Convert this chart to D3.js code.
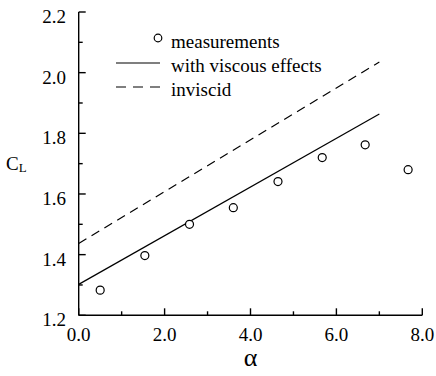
<!DOCTYPE html>
<html><head><meta charset="utf-8">
<script src="https://cdn.jsdelivr.net/npm/d3@7"></script>
<style>body{margin:0;background:#fff} svg text{font-family:"Liberation Serif","DejaVu Serif","Noto Serif",serif;}</style>
</head><body>
<script>
const measAlpha = [0.5, 1.54, 2.58, 3.6, 4.64, 5.67, 6.67, 7.67];
const measCL    = [1.283, 1.397, 1.5, 1.555, 1.641, 1.72, 1.762, 1.68];
const viscAlpha = [0, 7];
const viscCL    = [1.302, 1.864];
const invAlpha  = [0, 7];
const invCL     = [1.437, 2.035];
const xTicks = [0, 2, 4, 6, 8];
const xMinor = [1, 3, 5, 7];
const yTicks = [1.2, 1.4, 1.6, 1.8, 2.0, 2.2];
const yMinor = [1.3, 1.5, 1.7, 1.9, 2.1];
const legendLabels = ["measurements", "with viscous effects", "inviscid"];

const W = 436, H = 376;
const svg = d3.select("body").append("svg").attr("width", W).attr("height", H);
const x = d3.scaleLinear().domain([0, 8]).range([78.7, 422.3]);
const y = d3.scaleLinear().domain([1.2, 2.2]).range([315.3, 12]);

// axes
const g = svg.append("g").attr("stroke", "#000").attr("stroke-width", 1.4);
g.append("line").attr("x1", x(0)).attr("x2", x(0)).attr("y1", y(1.2)).attr("y2", y(2.2));
g.append("line").attr("x1", x(0)).attr("x2", x(8)).attr("y1", y(1.2)).attr("y2", y(1.2));
yTicks.forEach(v => g.append("line").attr("x1", x(0)).attr("x2", x(0) + 7).attr("y1", y(v)).attr("y2", y(v)));
yMinor.forEach(v => g.append("line").attr("x1", x(0)).attr("x2", x(0) + 4).attr("y1", y(v)).attr("y2", y(v)));
xTicks.forEach(v => g.append("line").attr("x1", x(v)).attr("x2", x(v)).attr("y1", y(1.2)).attr("y2", y(1.2) - 7));
xMinor.forEach(v => g.append("line").attr("x1", x(v)).attr("x2", x(v)).attr("y1", y(1.2)).attr("y2", y(1.2) - 4));

const fmt = d3.format(".1f");
svg.selectAll(".yl").data(yTicks).enter().append("text")
  .attr("x", 66).attr("y", d => y(d) + 11).attr("text-anchor", "end")
  .attr("font-size", 19).text(fmt);
svg.selectAll(".xl").data(xTicks).enter().append("text")
  .attr("x", d => x(d)).attr("y", 341).attr("text-anchor", "middle")
  .attr("font-size", 19).text(fmt);

// axis titles
svg.append("text").attr("x", x(4)).attr("y", 366).attr("text-anchor", "middle")
  .attr("font-size", 26).text("α");
const cl = svg.append("text").attr("x", 6).attr("y", 170).attr("font-size", 19);
cl.append("tspan").text("C");
cl.append("tspan").attr("font-size", 13).attr("dy", 2).text("L");

// lines
const line = d3.line().x(d => x(d[0])).y(d => y(d[1]));
svg.append("path").datum(viscAlpha.map((a, i) => [a, viscCL[i]])).attr("d", line)
  .attr("fill", "none").attr("stroke", "#000").attr("stroke-width", 1.2);
svg.append("path").datum(invAlpha.map((a, i) => [a, invCL[i]])).attr("d", line)
  .attr("fill", "none").attr("stroke", "#000").attr("stroke-width", 1.2).attr("stroke-dasharray", "9,6");

// measurements
svg.selectAll(".m").data(measAlpha.map((a, i) => [a, measCL[i]])).enter().append("circle")
  .attr("cx", d => x(d[0])).attr("cy", d => y(d[1])).attr("r", 4)
  .attr("fill", "#fff").attr("stroke", "#000").attr("stroke-width", 1.2);

// legend
svg.append("circle").attr("cx", 158).attr("cy", 38).attr("r", 3.8)
  .attr("fill", "#fff").attr("stroke", "#000").attr("stroke-width", 1.2);
svg.append("line").attr("x1", 116).attr("x2", 160).attr("y1", 63).attr("y2", 63)
  .attr("stroke", "#000").attr("stroke-width", 1.2);
svg.append("line").attr("x1", 116).attr("x2", 160).attr("y1", 87).attr("y2", 87)
  .attr("stroke", "#000").attr("stroke-width", 1.2).attr("stroke-dasharray", "10,7");
legendLabels.forEach((t, i) => svg.append("text").attr("x", 171).attr("y", 48 + i * 24)
  .attr("font-size", 19).text(t));
</script>
</body></html>
